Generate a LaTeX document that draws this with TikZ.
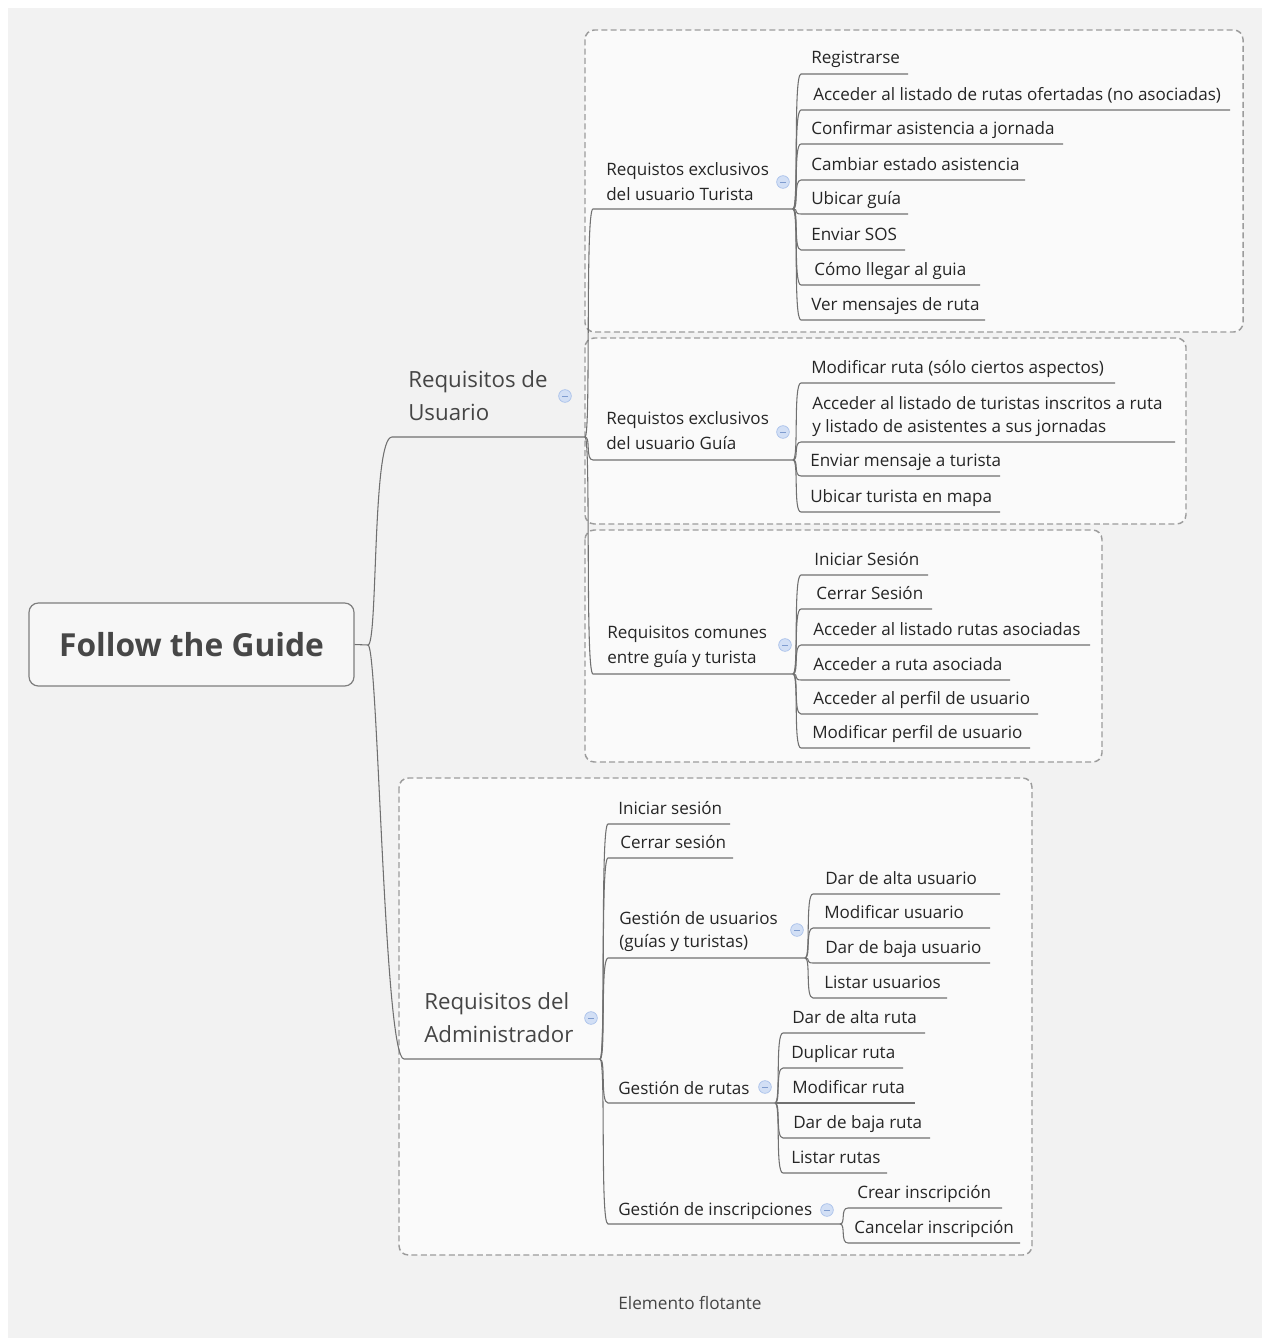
\documentclass[tikz,border=0pt]{standalone}
\usepackage{fontspec}
\setmainfont{Open Sans}
\usetikzlibrary{calc}
\definecolor{pagebg}{HTML}{F2F2F2}
\definecolor{boxfill}{HTML}{FAFAFA}
\definecolor{dashc}{HTML}{9C9C9C}
\definecolor{linec}{HTML}{707070}
\definecolor{txt}{HTML}{262626}
\definecolor{maintxt}{HTML}{454545}
\definecolor{rootc}{HTML}{474747}
\definecolor{iconfill}{HTML}{D2DFF5}
\definecolor{icondraw}{HTML}{A8C0EA}
\definecolor{iconbar}{HTML}{7F9CCF}

% one leaf topic: name, parent end, start x, underline y, end x, text x, text
\newcommand\twig[7]{%
  \coordinate (#1-s) at (#3,#4);
  \coordinate (#1-e) at (#5,#4);
  \node[leaf] (#1) at (#6,#4-10) {#7};
  \draw[line] (#2) .. controls +(6,0) and +(-8,0) .. (#1-s) -- (#1-e);
}

\begin{document}
\begin{tikzpicture}[x=0.75pt,y=-0.75pt,
  leaf/.style={anchor=base west, inner sep=0pt, text=txt,
    font=\fontsize{12.8}{17.25}\selectfont, align=left},
  sub/.style={anchor=base west, inner sep=0pt, text=txt,
    font=\fontsize{12.8}{18.75}\selectfont, align=left},
  maintopic/.style={anchor=base west, inner sep=0pt, text=maintxt,
    font=\fontsize{16.7}{24.5}\selectfont, align=left},
  line/.style={draw=linec, line width=0.8pt},
  grp/.style={draw=dashc, dash pattern=on 4.5pt off 2.5pt, line width=1.1pt,
    rounded corners=7pt, fill=boxfill},
  rootbox/.style={draw=linec!90, line width=0.9pt, rounded corners=7pt,
    fill=pagebg!60!white, text=rootc, font=\fontsize{23.8}{28}\selectfont\bfseries,
    minimum width=243.75pt, minimum height=62.25pt},
  collapse/.style={circle, inner sep=0pt, minimum size=9.5pt, fill=iconfill,
    draw=icondraw, line width=0.5pt,
    path picture={\draw[iconbar, line width=0.7pt]
      ([xshift=-2.2pt]path picture bounding box.center) --
      ([xshift=2.2pt]path picture bounding box.center);}},
  floattext/.style={text=maintxt, font=\fontsize{12.9}{15}\selectfont, inner sep=0pt}
]
\useasboundingbox (0,0) rectangle (1262,1338);
\fill[white] (0,0) rectangle (1262,1338);
\fill[pagebg] (8,8) rectangle (1262,1338);

% group boundaries
\path[grp] (585,30) rectangle (1243,332);
\path[grp] (585,338) rectangle (1186,524);
\path[grp] (585,530) rectangle (1102,762);
\path[grp] (399,778) rectangle (1032,1255);

% central topic
\node[rootbox] (root) at (191.5,644.5) {Follow the Guide};
\coordinate (root-j) at (368,645);
\draw[line] (root.east) -- (root-j);

% main branch: user requirements
\coordinate (usr-s) at (392,437);
\coordinate (usr-e) at (585,437);
\node[maintopic] (usr) at (408,420) {Requisitos de\\Usuario};
\draw[line] (root-j) .. controls +(10,0) and +(-20,0) .. (usr-s) -- (usr-e);
\node[collapse] (usr-c) at (565,396) {};

% main branch: administrator requirements
\coordinate (adm-s) at (404,1059);
\coordinate (adm-e) at (600,1059);
\node[maintopic] (adm) at (424,1042) {Requisitos del\\Administrador};
\draw[line] (root-j) .. controls +(10,0) and +(-20,0) .. (adm-s) -- (adm-e);
\node[collapse] (adm-c) at (591,1018) {};

% tourist-only requirements
\coordinate (tur-s) at (593,209);
\coordinate (tur-e) at (793,209);
\node[sub] (tur) at (606,200) {Requistos exclusivos\\del usuario Turista};
\draw[line] (usr-e) .. controls +(6,0) and +(-8,0) .. (tur-s) -- (tur-e);
\node[collapse] (tur-c) at (783,182) {};
\twig{t1}{tur-e}{801}{74}{908}{811}{Registrarse}
\twig{t2}{tur-e}{801}{110}{1230}{813}{Acceder al listado de rutas ofertadas (no asociadas)}
\twig{t3}{tur-e}{801}{144}{1063}{811}{Confirmar asistencia a jornada}
\twig{t4}{tur-e}{801}{180}{1025}{811}{Cambiar estado asistencia}
\twig{t5}{tur-e}{801}{214}{908}{811}{Ubicar guía}
\twig{t6}{tur-e}{801}{250}{905}{811}{Enviar SOS}
\twig{t7}{tur-e}{801}{285}{980}{814}{Cómo llegar al guia}
\twig{t8}{tur-e}{801}{320}{985}{811}{Ver mensajes de ruta}

% guide-only requirements
\coordinate (gui-s) at (593,460);
\coordinate (gui-e) at (793,460);
\node[sub] (gui) at (606,449) {Requistos exclusivos\\del usuario Guía};
\draw[line] (usr-e) .. controls +(6,0) and +(-8,0) .. (gui-s) -- (gui-e);
\node[collapse] (gui-c) at (783,432) {};
\twig{g1}{gui-e}{801}{383}{1115}{811}{Modificar ruta (sólo ciertos aspectos)}
\twig{g2}{gui-e}{801}{442}{1175}{812}{Acceder al listado de turistas inscritos a ruta\\y listado de asistentes a sus jornadas}
\twig{g3}{gui-e}{801}{476}{1000}{810}{Enviar mensaje a turista}
\twig{g4}{gui-e}{801}{512}{1000}{810}{Ubicar turista en mapa}

% requirements shared by guide and tourist
\coordinate (com-s) at (593,674);
\coordinate (com-e) at (793,674);
\node[sub] (com) at (607,663) {Requisitos comunes\\entre guía y turista};
\draw[line] (usr-e) .. controls +(6,0) and +(-8,0) .. (com-s) -- (com-e);
\node[collapse] (com-c) at (785,645) {};
\twig{c1}{com-e}{801}{575}{928}{814}{Iniciar Sesión}
\twig{c2}{com-e}{801}{609}{932}{816}{Cerrar Sesión}
\twig{c3}{com-e}{801}{645}{1090}{813}{Acceder al listado rutas asociadas}
\twig{c4}{com-e}{801}{680}{1010}{813}{Acceder a ruta asociada}
\twig{c5}{com-e}{801}{714}{1038}{813}{Acceder al perfil de usuario}
\twig{c6}{com-e}{801}{748}{1030}{812}{Modificar perfil de usuario}

% administrator children
\twig{a1}{adm-e}{608}{824}{730}{618}{Iniciar sesión}
\twig{a2}{adm-e}{608}{858}{733}{620}{Cerrar sesión}

\coordinate (gus-s) at (608,958);
\coordinate (gus-e) at (805,958);
\node[leaf] (gus) at (619,947) {Gestión de usuarios\\(guías y turistas)};
\draw[line] (adm-e) .. controls +(6,0) and +(-8,0) .. (gus-s) -- (gus-e);
\node[collapse] (gus-c) at (797,930) {};
\twig{u1}{gus-e}{813}{894}{1000}{825}{Dar de alta usuario}
\twig{u2}{gus-e}{813}{928}{990}{824}{Modificar usuario}
\twig{u3}{gus-e}{813}{963}{990}{825}{Dar de baja usuario}
\twig{u4}{gus-e}{813}{998}{947}{824}{Listar usuarios}

\coordinate (gru-s) at (608,1103);
\coordinate (gru-e) at (775,1103);
\node[leaf] (gru) at (618,1094) {Gestión de rutas};
\draw[line] (adm-e) .. controls +(6,0) and +(-8,0) .. (gru-s) -- (gru-e);
\node[collapse] (gru-c) at (765,1087) {};
\twig{r1}{gru-e}{783}{1033}{925}{792}{Dar de alta ruta}
\twig{r2}{gru-e}{783}{1068}{903}{791}{Duplicar ruta}
\twig{r3}{gru-e}{783}{1103}{915}{792}{Modificar ruta}
\twig{r4}{gru-e}{783}{1138}{930}{793}{Dar de baja ruta}
\twig{r5}{gru-e}{783}{1173}{887}{791}{Listar rutas}

\coordinate (gin-s) at (608,1224);
\coordinate (gin-e) at (840,1224);
\node[leaf] (gin) at (618,1215) {Gestión de inscripciones};
\draw[line] (adm-e) .. controls +(6,0) and +(-8,0) .. (gin-s) -- (gin-e);
\node[collapse] (gin-c) at (827,1210) {};
\twig{i1}{gin-e}{848}{1208}{1002}{857}{Crear inscripción}
\twig{i2}{gin-e}{848}{1243}{1020}{854}{Cancelar inscripción}

% floating topic
\node[floattext] (flt) at (690,1303) {Elemento flotante};
\end{tikzpicture}
\end{document}
